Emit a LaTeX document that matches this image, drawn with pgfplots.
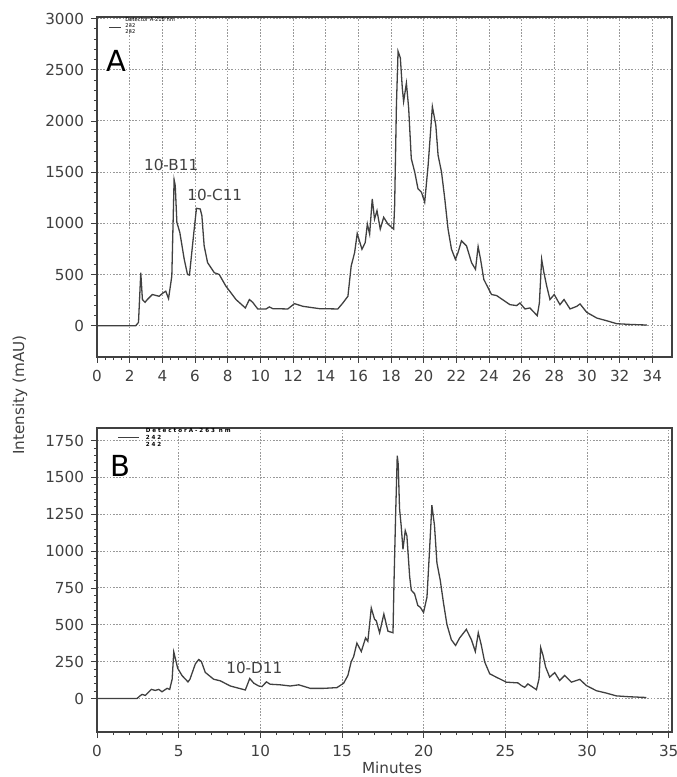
\documentclass[border=0pt]{standalone}
\usepackage{fontspec}
\setmainfont{DejaVu Sans}
\usepackage{pgfplots}
\pgfplotsset{compat=1.18}

\definecolor{ink}{gray}{0.25}
\definecolor{trace}{gray}{0.25}

\pgfplotsset{
  chrom/.style={
    scale only axis,
    width=287.5pt,
    axis line style={ink, line width=0.6pt},
    tick style={ink, line width=0.4pt},
    tick align=outside,
    xtick pos=left, ytick pos=left,
    major tick length=3pt, minor tick length=1.6pt,
    grid=major,
    major grid style={dash pattern=on 0.8pt off 0.8pt, gray!80, line width=0.5pt},
    ticklabel style={font=\fontsize{7.6}{9}\selectfont, text=ink},
    /pgf/number format/assume math mode=true,
    /pgf/number format/1000 sep={},
    clip=true,
  },
}

\begin{document}
\begin{tikzpicture}
\path[use as bounding box] (0,0) rectangle (338pt,388.5pt);

% panel A
\begin{axis}[chrom,
  at={(48.5pt,210pt)}, anchor=south west,
  height=170pt,
  xmin=0, xmax=35.2, ymin=-305, ymax=3015,
  xtick={0,2,...,34}, minor x tick num=3,
  ytick={0,500,...,3000}, minor y tick num=4,
]
\addplot[trace, line width=0.65pt] coordinates {
(0,0) (2.37,0) (2.54,33) (2.68,518) (2.78,256) (2.94,229) (3.08,256) (3.39,305)
(3.80,288) (4.05,321) (4.21,337) (4.38,265) (4.58,485) (4.72,1425) (4.79,1369)
(4.89,1009) (5.07,911) (5.34,649) (5.54,501) (5.66,495) (5.95,944) (6.09,1147)
(6.32,1140) (6.42,1075) (6.56,780) (6.77,616) (7.18,518) (7.48,501) (7.89,387)
(8.51,256) (9.08,174) (9.33,256) (9.53,229) (9.84,164) (10.35,164) (10.55,184)
(10.76,167) (11.68,164) (12.09,216) (12.6,190) (13.62,167) (14.74,164) (15.05,222)
(15.36,288) (15.56,583) (15.77,714) (15.93,901) (16.22,747) (16.42,813) (16.55,993)
(16.69,895) (16.85,1239) (16.99,1042) (17.14,1124) (17.34,944) (17.55,1059)
(17.81,993) (18.16,944) (18.22,1173) (18.33,2156) (18.43,2680) (18.57,2615)
(18.69,2320) (18.77,2189) (18.94,2369) (19.08,2123) (19.24,1632) (19.45,1501)
(19.65,1337) (19.86,1305) (20.06,1206) (20.27,1566) (20.53,2140) (20.74,1960)
(20.88,1665) (21.09,1501) (21.29,1239) (21.49,944) (21.7,747) (21.94,649)
(22.1,714) (22.31,829) (22.62,780) (22.93,616) (23.17,551) (23.33,773)
(23.48,649) (23.68,452) (24.15,305) (24.46,295) (25.28,206) (25.69,197)
(25.89,222) (26.2,164) (26.5,174) (26.95,98) (27.08,222) (27.22,649) (27.36,518)
(27.53,387) (27.73,256) (27.99,305) (28.34,206) (28.59,256) (28.96,164)
(29.37,190) (29.57,213) (29.98,131) (30.6,75) (31.2,49) (31.82,20) (32.64,13)
(33.66,7)
};
\node[font=\fontsize{14.5}{16}\selectfont, text=black] at (axis cs:1.17,2585) {A};
\node[font=\fontsize{7.6}{9}\selectfont, text=ink] at (axis cs:4.54,1573) {10-B11};
\node[font=\fontsize{7.6}{9}\selectfont, text=ink] at (axis cs:7.21,1278) {10-C11};
\draw[ink, line width=0.5pt] (axis cs:0.74,2910) -- (axis cs:1.47,2910);
\node[font=\fontsize{2.6}{3}\selectfont, anchor=west, inner sep=0pt] at (axis cs:1.72,2988) {Detector A-215 nm};
\node[font=\fontsize{2.6}{3}\selectfont, anchor=west, inner sep=0pt] at (axis cs:1.72,2929) {242};
\node[font=\fontsize{2.6}{3}\selectfont, anchor=west, inner sep=0pt] at (axis cs:1.72,2870) {242};
\end{axis}

% panel B
\begin{axis}[chrom,
  at={(48.5pt,22.5pt)}, anchor=south west,
  height=152pt,
  xmin=0, xmax=35.2, ymin=-227, ymax=1835,
  xtick={0,5,...,35}, minor x tick num=4,
  ytick={0,250,...,1750}, minor y tick num=4,
]
\addplot[trace, line width=0.65pt] coordinates {
(0,0) (2.45,0) (2.61,16) (2.76,28) (2.96,21) (3.33,62) (3.57,55) (3.78,62)
(3.98,46) (4.29,69) (4.45,62) (4.6,131) (4.7,316) (4.8,270) (4.94,205) (5.21,155)
(5.57,113) (5.69,131) (6.02,235) (6.23,265) (6.39,251) (6.63,177) (7.14,131)
(7.55,120) (8.16,85) (9.08,58) (9.35,136) (9.6,104) (9.9,85) (10.1,81) (10.37,113)
(10.6,97) (11.22,93) (11.83,85) (12.35,93) (13.06,69) (13.87,69) (14.69,74)
(15.1,104) (15.36,157) (15.56,249) (15.71,284) (15.91,376) (16.18,319) (16.44,411)
(16.58,388) (16.79,614) (16.99,538) (17.1,526) (17.3,446) (17.56,573) (17.81,457)
(18.12,446) (18.18,780) (18.28,1243) (18.38,1647) (18.44,1589) (18.52,1289)
(18.62,1173) (18.73,1012) (18.87,1139) (18.97,1104) (19.14,827) (19.24,734)
(19.44,711) (19.64,631) (19.79,619) (19.99,584) (20.2,688) (20.36,1012) (20.5,1312)
(20.66,1173) (20.81,919) (21.01,804) (21.22,642) (21.42,503) (21.69,399) (21.95,360)
(22.2,411) (22.61,469) (22.92,399) (23.16,319) (23.34,446) (23.52,365) (23.73,249)
(24.04,168) (24.44,145) (25.06,111) (25.77,106) (25.98,88) (26.18,76) (26.38,99)
(26.9,60) (27.06,134) (27.16,346) (27.3,295) (27.46,215) (27.71,145) (28.02,176)
(28.32,122) (28.63,157) (29.04,111) (29.55,130) (29.96,88) (30.57,53) (31.18,37)
(31.79,18) (32.61,12) (33.63,7)
};
\node[font=\fontsize{14.5}{16}\selectfont, text=black] at (axis cs:1.44,1575) {B};
\node[font=\fontsize{7.6}{9}\selectfont, text=ink] at (axis cs:9.63,210) {10-D11};
\draw[ink, line width=0.5pt] (axis cs:1.31,1769) -- (axis cs:2.60,1769);
\node[font=\bfseries\fontsize{2.8}{3}\selectfont, anchor=west, inner sep=0pt] at (axis cs:2.96,1818) {D e t e c t o r\ A - 2 6 3\ \ n m};
\node[font=\bfseries\fontsize{2.8}{3}\selectfont, anchor=west, inner sep=0pt] at (axis cs:2.96,1769) {2 4 2};
\node[font=\bfseries\fontsize{2.8}{3}\selectfont, anchor=west, inner sep=0pt] at (axis cs:2.96,1721) {2 4 2};
\end{axis}

\node[rotate=90, font=\fontsize{7.6}{9}\selectfont, text=ink] at (10pt,191pt) {Intensity (mAU)};
\node[font=\fontsize{7.6}{9}\selectfont, text=ink] at (196pt,4.5pt) {Minutes};
\end{tikzpicture}
\end{document}
